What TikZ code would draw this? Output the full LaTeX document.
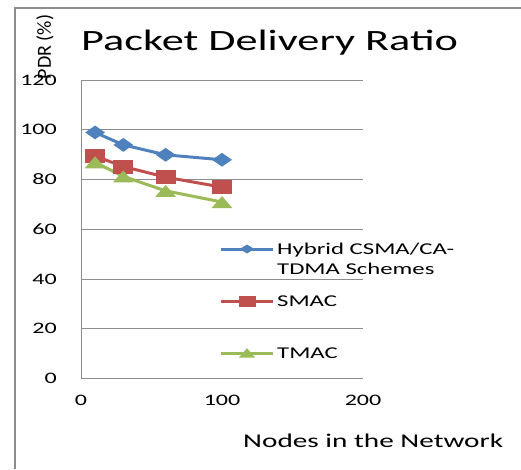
\documentclass[tikz,border=0pt]{standalone}
\usepackage{fontspec}
\setmainfont[FakeStretch=1.5]{Carlito}
\newfontfamily\labelfont{Carlito}
\usetikzlibrary{shapes.geometric}
\definecolor{hybblue}{HTML}{4F81BD}
\definecolor{smacred}{HTML}{C0504D}
\definecolor{tmacgreen}{HTML}{9BBB59}
\definecolor{gridgray}{HTML}{8C8C8C}

\begin{document}
\begin{tikzpicture}[x=1pt, y=-1pt,
    gridline/.style={gridgray, line width=1pt},
    ticklabel/.style={inner sep=0pt, font=\fontsize{16}{16}\selectfont},
    keylabel/.style={inner sep=0pt, anchor=base west, font=\fontsize{16.5}{16.5}\selectfont},
    series/.style={line width=3pt, line join=round},
    diam/.style={diamond, fill=hybblue, inner sep=0pt, minimum width=20pt, minimum height=14pt},
    sq/.style={rectangle, fill=smacred, inner sep=0pt, minimum width=20pt, minimum height=14pt},
    tri/.style={regular polygon, regular polygon sides=3, fill=tmacgreen, inner sep=0pt, minimum size=16pt, xscale=1.5, yshift=-2pt}]
    \useasboundingbox (0,0) rectangle (521,469);

    % chart frame
    \draw[gridgray, line width=1.5pt] (15,469) -- (15,8) -- (521,8);

    \node[anchor=base west, inner sep=0pt, font=\fontsize{29.5}{29.5}\selectfont] (title) at (81,50) {Packet Delivery Ratio};
    \node[rotate=90, inner sep=0pt, font=\labelfont\fontsize{20}{20}\selectfont] (ylabel) at (45,47) {PDR (\%)};
    \node[anchor=base west, inner sep=0pt, font=\fontsize{19.5}{19.5}\selectfont] (xlabel) at (243,447) {Nodes in the Network};

    % plot area, data units
    \begin{scope}[shift={(81,378.5)}, x=1.41pt, y=2.4854pt]
        \foreach \v in {20,40,...,120}
            \draw[gridline] (0,\v) -- (200,\v);
        \draw[gridline] (0,120) -- (0,0) -- (200,0);
        \foreach \v in {0,20,...,120}
            \node[ticklabel, anchor=base east, xshift=-24pt, yshift=-5pt] (y\v) at (0,\v) {\v};
        \foreach \v in {0,100,200}
            \node[ticklabel, anchor=base, yshift=-26.5pt] (x\v) at (\v,0) {\v};

        \foreach \n/\px/\py in {1/10/99, 2/30/94, 3/60/90, 4/100/88}
            \coordinate (h\n) at (\px,\py);
        \foreach \n/\px/\py in {1/10/89.5, 2/30/85.3, 3/60/81, 4/100/77}
            \coordinate (s\n) at (\px,\py);
        \foreach \n/\px/\py in {1/10/87, 2/30/81.3, 3/60/75.5, 4/100/71}
            \coordinate (t\n) at (\px,\py);

        \draw[series, hybblue] (h1) -- (h2) -- (h3) -- (h4);
        \draw[series, smacred] (s1) -- (s2) -- (s3) -- (s4);
        \draw[series, tmacgreen] (t1) -- (t2) -- (t3) -- (t4);
        \foreach \n in {1,...,4} {
            \node[diam] at (h\n) {};
            \node[sq] at (s\n) {};
            \node[tri] at (t\n) {};
        }
    \end{scope}

    % legend
    \coordinate (hybA) at (221,249);
    \coordinate (hybB) at (273,249);
    \coordinate (smacA) at (221,301);
    \coordinate (smacB) at (273,301);
    \coordinate (tmacA) at (221,353);
    \coordinate (tmacB) at (273,353);
    \draw[series, hybblue] (hybA) -- (hybB);
    \draw[series, smacred] (smacA) -- (smacB);
    \draw[series, tmacgreen] (tmacA) -- (tmacB);
    \node[diam, minimum width=15pt, minimum height=9pt] (hybkey) at (247,249) {};
    \node[sq, minimum width=17pt, minimum height=11pt] (smackey) at (247,301) {};
    \node[tri, minimum size=12.5pt, yshift=0.5pt] (tmackey) at (247,353) {};
    \node[keylabel] (hybtext) at (277,254) {Hybrid CSMA/CA-};
    \node[keylabel] (hybtext2) at (277,274) {TDMA Schemes};
    \node[keylabel] (smactext) at (277,306) {SMAC};
    \node[keylabel] (tmactext) at (277,358) {TMAC};
\end{tikzpicture}
\end{document}
